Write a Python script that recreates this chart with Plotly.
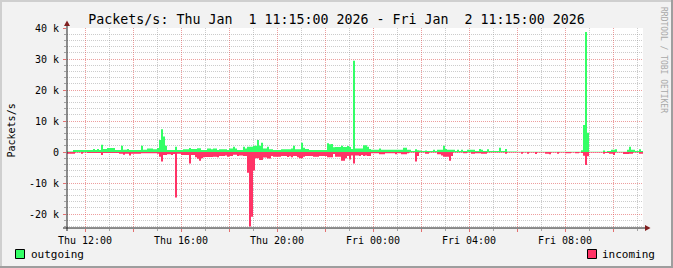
import pandas as pd
import plotly.graph_objects as go

# ---------------- data ----------------
start_time = "2026-01-01 11:15:00"
end_time = "2026-01-02 11:15:00"
step = "5min"

outgoing = [
    200, 200, 200, 650, 650, 650, 650, 650, 650, 650, 650, 650,
    650, 1000, 650, 950, 650, 2300, 1000, 1000, 1300, 1300, 1300, 1300,
    650, 650, 650, 2000, 700, 700, 1000, 650, 650, 650, 650, 650,
    650, 2000, 700, 700, 1100, 1100, 1100, 900, 900, 1300, 3900, 7300,
    5000, 2000, 650, 650, 650, 650, 1700, 650, 650, 650, 900, 900,
    900, 1300, 1000, 1000, 1000, 1200, 1200, 650, 650, 650, 1100, 1100,
    900, 1100, 1100, 650, 900, 900, 900, 900, 650, 1100, 1100, 1700,
    1100, 650, 650, 650, 1700, 1100, 1700, 1700, 1700, 2000, 2000, 3900,
    2000, 3000, 1100, 1100, 1700, 900, 900, 650, 650, 650, 650, 900,
    900, 900, 900, 900, 1100, 2000, 900, 900, 900, 3000, 1400, 1000,
    1000, 650, 650, 650, 650, 650, 650, 650, 650, 650, 2800, 2500,
    2600, 1500, 1600, 1600, 1600, 2000, 1600, 1600, 1900, 1600, 1000, 29400,
    1100, 1100, 1100, 1100, 2200, 2200, 1700, 1000, 750, 750, 750, 750,
    1100, 750, 750, 750, 750, 750, 750, 750, 750, 750, 750, 750,
    1400, 1400, 750, 750, 300, 300, 900, 600, 500, 300, 300, 500,
    300, 300, 300, 750, 300, 750, 750, 750, 2000, 1000, 750, 750,
    750, 750, 300, 750, 300, 750, 300, 300, 750, 750, 750, 750,
    300, 300, 1000, 750, 300, 300, 850, 300, 300, 300, 300, 300,
    1400, 300, 300, 1000, 200, 200, 200, 200, 200, 100, 100, 100,
    100, 100, 100, 100, 100, 100, 100, 100, 100, 100, 100, 100,
    100, 100, 100, 100, 100, 100, 100, 100, 100, 100, 100, 100,
    100, 100, 100, 100, 100, 600, 8700, 38700, 6200, 100, 100, 100,
    100, 100, 100, 100, 500, 100, 300, 300, 750, 750, 900, 100,
    100, 100, 100, 100, 750, 1700, 750, 750, 300, 300, 900, 300,
]

incoming = [
    -540, -540, -540, -540, -200, -200, -200, -540, -200, -200, -300, -300,
    -300, -300, -300, -300, -300, -1000, -300, -300, -300, -300, -300, -300,
    -300, -300, -540, -540, -860, -540, -540, -1100, -540, -540, -540, -540,
    -540, -430, -430, -430, -430, -430, -430, -430, -430, -540, -1500, -3100,
    -1000, -1000, -750, -750, -1000, -650, -14700, -540, -540, -1000, -1000, -1000,
    -1000, -3700, -1000, -1000, -1700, -2150, -2800, -2000, -1700, -1600, -1600, -1600,
    -1600, -1500, -1500, -1700, -1300, -1300, -1300, -1100, -1500, -1300, -1300, -860,
    -860, -1300, -1100, -1100, -1300, -1300, -6700, -24000, -20900, -6000, -2000, -2000,
    -2600, -2600, -1800, -1800, -2100, -2100, -1300, -1500, -1500, -1500, -1500, -1300,
    -1300, -1300, -1600, -1400, -1700, -1300, -1300, -1700, -2000, -2000, -1500, -1300,
    -1300, -1300, -1300, -1500, -1500, -1500, -1300, -1300, -1300, -1300, -1700, -1700,
    -1700, -650, -1500, -1500, -1500, -2800, -2800, -2000, -1300, -2400, -1100, -3700,
    -1100, -1100, -1300, -1000, -1300, -1100, -1300, -1300, -430, -430, -430, -430,
    -750, -750, -750, -430, -430, -430, -430, -430, -750, -430, -430, -750,
    -750, -750, -430, -200, -200, -200, -3100, -1300, -200, -200, -200, -540,
    -540, -200, -200, -200, -200, -750, -750, -1100, -1500, -1500, -1500, -2800,
    -1300, -200, -200, -200, -200, -200, -430, -430, -200, -200, -540, -540,
    -430, -430, -430, -540, -540, -540, -200, -200, -200, -150, -150, -150,
    -150, -150, -150, -600, -150, -150, -150, -150, -150, -150, -150, -540,
    -150, -150, -540, -150, -150, -150, -650, -150, -150, -150, -150, -540,
    -540, -750, -150, -150, -150, -540, -150, -150, -150, -430, -430, -430,
    -150, -150, -430, -430, -150, -300, -1200, -4200, -1400, -200, -200, -200,
    -200, -200, -200, -200, -540, -300, -300, -540, -540, -1000, -200, -200,
    -200, -200, -650, -650, -650, -540, -540, -200, -200, -200, -540, -540,
]

x_tick_times = [
    "2026-01-01 12:00", "2026-01-01 14:00", "2026-01-01 16:00", "2026-01-01 18:00",
    "2026-01-01 20:00", "2026-01-01 22:00", "2026-01-02 00:00", "2026-01-02 02:00",
    "2026-01-02 04:00", "2026-01-02 06:00", "2026-01-02 08:00", "2026-01-02 10:00",
]
x_tick_labels = ["Thu 12:00", "", "Thu 16:00", "", "Thu 20:00", "",
                 "Fri 00:00", "", "Fri 04:00", "", "Fri 08:00", ""]
y_tick_vals = [-20000, -10000, 0, 10000, 20000, 30000, 40000]
y_tick_labels = ["-20 k", "-10 k", "0", "10 k", "20 k", "30 k", "40 k"]

title_text = "Packets/s: Thu Jan  1 11:15:00 2026 - Fri Jan  2 11:15:00 2026"
y_title = "Packets/s"
legend_names = ["outgoing", "incoming"]

# ---------------- style ----------------
W, H = 673, 268
L, R, T, B = 67, 643, 28, 228
Y_MIN, Y_MAX = -24516, 40000
GREEN = "#33FF66"
PINK = "#FF3366"
FONT = "DejaVu Sans Mono"
MGRID = "rgba(222,79,79,0.55)"
GRID = "rgba(143,143,143,0.45)"
DASH = "1px,1px"


def px(x):
    return (x - L) / (R - L)


def py(y):
    return (B - y) / (B - T)


def step_series(vals):
    t = pd.date_range(start_time, periods=len(vals) + 1, freq=step)
    return list(t), list(vals) + [vals[-1]]


fig = go.Figure()
for vals, color in [(outgoing, GREEN), (incoming, PINK)]:
    tx, ty = step_series(vals)
    fig.add_trace(go.Scatter(x=tx, y=ty, mode="lines", fill="tozeroy",
                             fillcolor=color, line=dict(width=0, shape="hv", color=color),
                             hoverinfo="skip"))

minor_x = list(pd.date_range("2026-01-01 13:00", "2026-01-02 11:00", freq="2h"))
minor_y = [v for v in range(-24000, 40001, 2000) if v % 10000 != 0]

fig.update_layout(
    width=W, height=H,
    margin=dict(l=L, r=W - R, t=T, b=H - B, pad=0),
    paper_bgcolor="#F2F2F2", plot_bgcolor="#FFFFFF",
    showlegend=False,
    font=dict(family=FONT, size=10, color="#000000"),
    title=dict(text=title_text, x=0.5, xref="container", xanchor="center",
               y=1 - 19.5 / H, yref="container", yanchor="middle",
               font=dict(family=FONT, size=13.3, color="#000000")),
)
fig.update_xaxes(
    type="date", range=[start_time, end_time],
    tickmode="array", tickvals=x_tick_times, ticktext=x_tick_labels,
    showgrid=True, gridcolor=MGRID, gridwidth=1, griddash=DASH,
    ticks="outside", ticklen=3, tickcolor="rgba(222,79,79,0.8)",
    tickfont=dict(family=FONT, size=10, color="#000000"),
    showline=False, zeroline=False,
    minor=dict(tickmode="array", tickvals=minor_x, showgrid=True, gridcolor=GRID,
               griddash=DASH, gridwidth=1, ticks="outside", ticklen=2,
               tickcolor="rgba(143,143,143,0.8)"),
)
fig.update_yaxes(
    range=[Y_MIN, Y_MAX],
    tickmode="array", tickvals=y_tick_vals, ticktext=y_tick_labels,
    showgrid=True, gridcolor=MGRID, gridwidth=1, griddash=DASH,
    ticks="outside", ticklen=3, tickcolor="rgba(222,79,79,0.8)",
    ticklabelstandoff=2,
    tickfont=dict(family=FONT, size=10, color="#000000"),
    showline=False, zeroline=False,
    minor=dict(tickmode="array", tickvals=minor_y, showgrid=True, gridcolor=GRID,
               griddash=DASH, gridwidth=1, ticks="outside", ticklen=2,
               tickcolor="rgba(143,143,143,0.8)"),
)

AXIS = "#1F1F1F"
ARROW = "#801F1F"
shapes = [
    # axes
    dict(type="line", xref="paper", yref="paper", x0=px(67), x1=px(67),
         y0=py(231), y1=py(24), line=dict(color=AXIS, width=1)),
    dict(type="line", xref="paper", yref="paper", x0=px(63), x1=px(646),
         y0=py(228), y1=py(228), line=dict(color=AXIS, width=1)),
    # arrows
    dict(type="path", xref="paper", yref="paper",
         path=f"M {px(64)} {py(26)} L {px(70)} {py(26)} L {px(67)} {py(20.5)} Z",
         fillcolor=ARROW, line=dict(width=0)),
    dict(type="path", xref="paper", yref="paper",
         path=f"M {px(645)} {py(225)} L {px(645)} {py(231)} L {px(650.5)} {py(228)} Z",
         fillcolor=ARROW, line=dict(width=0)),
    # legend boxes
    dict(type="rect", xref="paper", yref="paper", x0=px(15.5), x1=px(24.5),
         y0=py(258.5), y1=py(249.5), fillcolor=GREEN, line=dict(color="#000000", width=1)),
    dict(type="rect", xref="paper", yref="paper", x0=px(587.5), x1=px(596.5),
         y0=py(258.5), y1=py(249.5), fillcolor=PINK, line=dict(color="#000000", width=1)),
    # frame shading
    dict(type="rect", xref="paper", yref="paper", x0=px(0), x1=px(W), y0=py(0), y1=py(2),
         fillcolor="#CFCFCF", line=dict(width=0), layer="below"),
    dict(type="rect", xref="paper", yref="paper", x0=px(0), x1=px(2), y0=py(0), y1=py(H),
         fillcolor="#CFCFCF", line=dict(width=0), layer="below"),
    dict(type="rect", xref="paper", yref="paper", x0=px(0), x1=px(W), y0=py(H - 2), y1=py(H),
         fillcolor="#9E9E9E", line=dict(width=0)),
    dict(type="rect", xref="paper", yref="paper", x0=px(W - 2), x1=px(W), y0=py(0), y1=py(H),
         fillcolor="#9E9E9E", line=dict(width=0)),
]
fig.update_layout(shapes=shapes)

annotations = [
    dict(text=y_title, xref="paper", yref="paper", x=px(10.5), y=py(131),
         xanchor="center", yanchor="middle", textangle=-90, showarrow=False,
         font=dict(family=FONT, size=10, color="#000000")),
    dict(text=legend_names[0], xref="paper", yref="paper", x=px(28.5), y=py(254.5),
         xanchor="left", yanchor="middle", showarrow=False,
         font=dict(family=FONT, size=11, color="#000000")),
    dict(text=legend_names[1], xref="paper", yref="paper", x=px(600), y=py(254.5),
         xanchor="left", yanchor="middle", showarrow=False,
         font=dict(family=FONT, size=11, color="#000000")),
    dict(text="RRDTOOL / TOBI OETIKER", xref="paper", yref="paper", x=px(664), y=py(60),
         xanchor="center", yanchor="middle", textangle=90, showarrow=False,
         font=dict(family=FONT, size=8, color="#A8A8A8")),
]
fig.update_layout(annotations=annotations)

fig.write_html("out.html")
